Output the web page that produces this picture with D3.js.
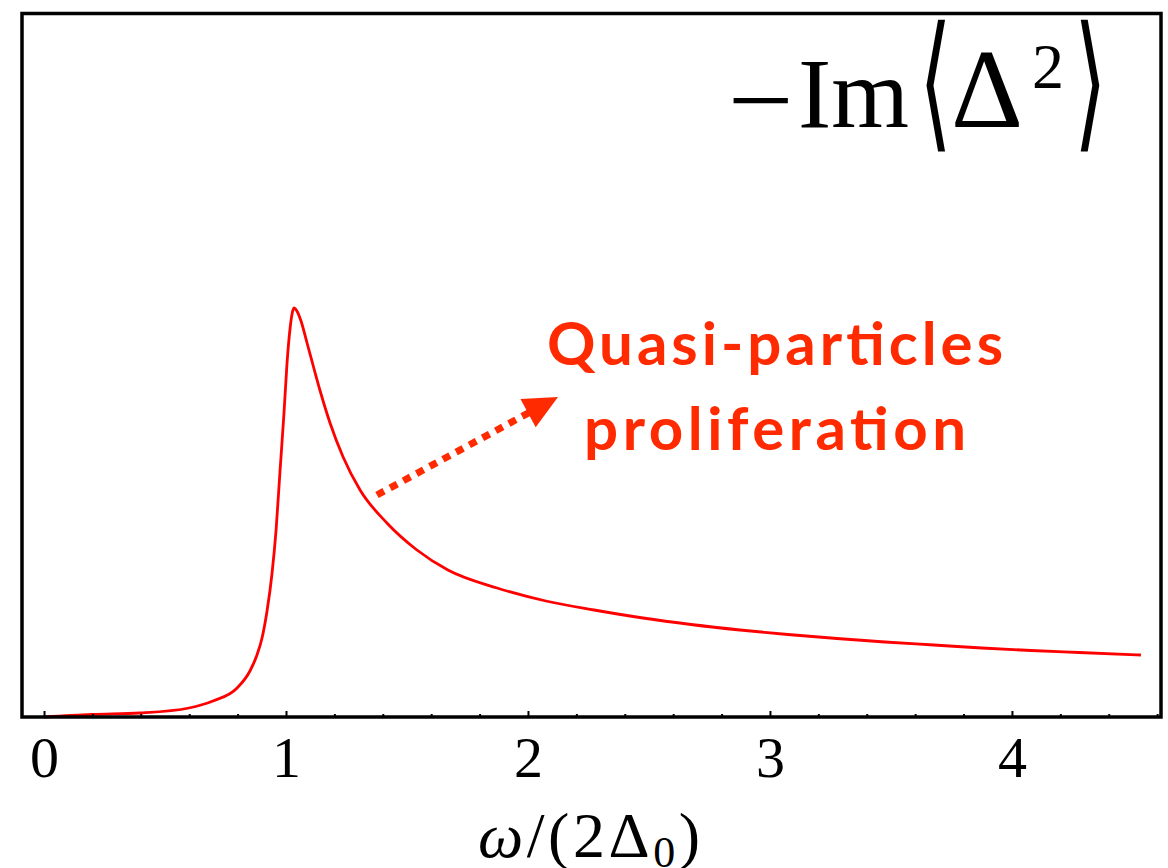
<!DOCTYPE html>
<html>
<head>
<meta charset="utf-8">
<script src="https://cdn.jsdelivr.net/npm/d3@7"></script>
<style>
  html, body { margin: 0; padding: 0; background: #fff; }
  svg { display: block; }
</style>
</head>
<body>
<script>
// frequency in units of 2*Delta_0, and -Im<Delta^2> (arbitrary units)
var omega = [0, 0.198, 0.397, 0.599, 0.698, 0.798, 0.851, 0.880, 0.901, 0.921, 0.942, 0.959,
             0.975, 0.992, 1.004, 1.017, 1.025, 1.033, 1.045, 1.062, 1.087, 1.116, 1.140,
             1.182, 1.236, 1.306, 1.417, 1.541, 1.669, 1.872, 2.074, 2.273, 2.475, 2.674,
             2.876, 3.074, 3.277, 3.475, 3.678, 3.876, 4.079, 4.277, 4.533];
var imDelta2 = [0, 0.025, 0.04, 0.09, 0.16, 0.29, 0.46, 0.62, 0.79, 1.05, 1.43, 1.87,
                2.45, 3.05, 3.53, 3.89, 4.03, 4.09, 4.06, 3.96, 3.74, 3.48, 3.27,
                2.94, 2.60, 2.27, 1.94, 1.67, 1.47, 1.29, 1.16, 1.07, 0.99, 0.925,
                0.87, 0.825, 0.785, 0.75, 0.72, 0.69, 0.665, 0.645, 0.62];

var xTicks = [0, 1, 2, 3, 4];
var xTickLabels = ["0", "1", "2", "3", "4"];
var xMinorTicks = [0.2, 0.4, 0.6, 0.8, 1.2, 1.4, 1.6, 1.8, 2.2, 2.4, 2.6, 2.8,
                   3.2, 3.4, 3.6, 3.8, 4.2, 4.4, 4.6];
var noteLines = ["Quasi-particles", "proliferation"];

var width = 1168, height = 868;
var frame = {left: 22, right: 1161, top: 13.5, bottom: 717};
var red = "#ff0000", noteRed = "#ff2a00";
var serif = "'Liberation Serif', 'Times New Roman', serif";
var bracketFont = "'DejaVu Sans ExtraLight', 'DejaVu Sans', sans-serif";

var x = d3.scaleLinear().domain([-0.091, 4.616]).range([frame.left, frame.right]);
var y = d3.scaleLinear().domain([0, 7.035]).range([frame.bottom, frame.top]);

var svg = d3.select("body").append("svg").attr("width", width).attr("height", height);

// curve
var line = d3.line()
    .x(function(d, i) { return x(omega[i]); })
    .y(function(d) { return y(d); })
    .curve(d3.curveMonotoneX);
svg.append("path")
    .datum(imDelta2)
    .attr("d", line)
    .attr("fill", "none")
    .attr("stroke", red)
    .attr("stroke-width", 2.8)
    .attr("stroke-linejoin", "round");

// inward ticks on the bottom axis
var minorAxis = d3.axisBottom(x).tickValues(xMinorTicks).tickSizeInner(-3).tickSizeOuter(0).tickFormat("");
var majorAxis = d3.axisBottom(x).tickValues(xTicks).tickSizeInner(-6).tickSizeOuter(0).tickPadding(19)
    .tickFormat(function(d, i) { return xTickLabels[i]; });

svg.append("g").attr("transform", "translate(0," + frame.bottom + ")").call(minorAxis)
  .call(function(g) { g.select(".domain").remove(); })
  .selectAll("line").attr("stroke", "#000").attr("stroke-width", 2);
var gx = svg.append("g").attr("transform", "translate(0," + frame.bottom + ")").call(majorAxis);
gx.select(".domain").remove();
gx.selectAll("line").attr("stroke", "#000").attr("stroke-width", 2);
gx.selectAll("text").attr("font-family", serif).attr("font-size", 58).attr("fill", "#000");

// frame
svg.append("rect")
    .attr("x", frame.left).attr("y", frame.top)
    .attr("width", frame.right - frame.left).attr("height", frame.bottom - frame.top)
    .attr("fill", "none").attr("stroke", "#000").attr("stroke-width", 3.5);

// x label  ω/(2Δ0)
var xl = svg.append("text")
    .attr("x", 478).attr("y", 857)
    .attr("font-family", serif).attr("font-size", 64)
    .attr("textLength", 222).attr("lengthAdjust", "spacing");
xl.append("tspan").attr("font-style", "italic").text("ω");
xl.append("tspan").text("/(2Δ");
xl.append("tspan").attr("font-size", 44).attr("dy", 10).text("0");
xl.append("tspan").attr("dy", -10).text(")");

// title  −Im⟨Δ²⟩
var title = svg.append("g").attr("font-family", serif).attr("fill", "#000");
title.append("text").attr("transform", "translate(728,136) scale(1.1,1)")
    .attr("font-size", 106).text("\u2212");
title.append("text").attr("x", 798).attr("y", 127).attr("font-size", 100).text("Im");
title.append("text").attr("transform", "translate(919,132) scale(1.05,1.85)")
    .attr("font-family", bracketFont).attr("font-weight", 200)
    .attr("font-size", 80).text("\u27E8");
title.append("text").attr("x", 951).attr("y", 127).attr("font-size", 112).text("Δ");
title.append("text").attr("x", 1032).attr("y", 88).attr("font-size", 64).text("2");
title.append("text").attr("transform", "translate(1074,132) scale(1.05,1.85)")
    .attr("font-family", bracketFont).attr("font-weight", 200)
    .attr("font-size", 80).text("\u27E9");

// annotation arrow (dotted) pointing from the curve to the note
var p0 = [x(1.376), y(2.22)], tip = [x(2.124), y(3.20)];
var dx = tip[0] - p0[0], dy = tip[1] - p0[1], len = Math.sqrt(dx * dx + dy * dy);
var ux = dx / len, uy = dy / len, headLen = 34, headHalf = 16;
var base = [tip[0] - ux * headLen, tip[1] - uy * headLen];
svg.append("line")
    .attr("x1", p0[0]).attr("y1", p0[1])
    .attr("x2", base[0] + ux * 4).attr("y2", base[1] + uy * 4)
    .attr("stroke", noteRed).attr("stroke-width", 7).attr("stroke-dasharray", "8,7");
svg.append("path")
    .attr("d", "M" + tip + "L" + [base[0] - uy * headHalf, base[1] + ux * headHalf] +
               "L" + [base[0] + uy * headHalf, base[1] - ux * headHalf] + "Z")
    .attr("fill", noteRed);

// note text
var noteFont = "'Comic Sans MS', 'Chalkboard', 'Lato', sans-serif";
var noteWidths = [456, 382], noteY = [365, 450];
svg.selectAll(".note")
  .data(noteLines)
  .enter().append("text")
    .attr("class", "note")
    .attr("x", 775).attr("y", function(d, i) { return noteY[i]; })
    .attr("text-anchor", "middle")
    .attr("font-family", noteFont).attr("font-weight", "bold").attr("font-size", 60)
    .attr("fill", noteRed)
    .attr("textLength", function(d, i) { return noteWidths[i]; })
    .attr("lengthAdjust", "spacing")
    .text(function(d) { return d; });
</script>
</body>
</html>
